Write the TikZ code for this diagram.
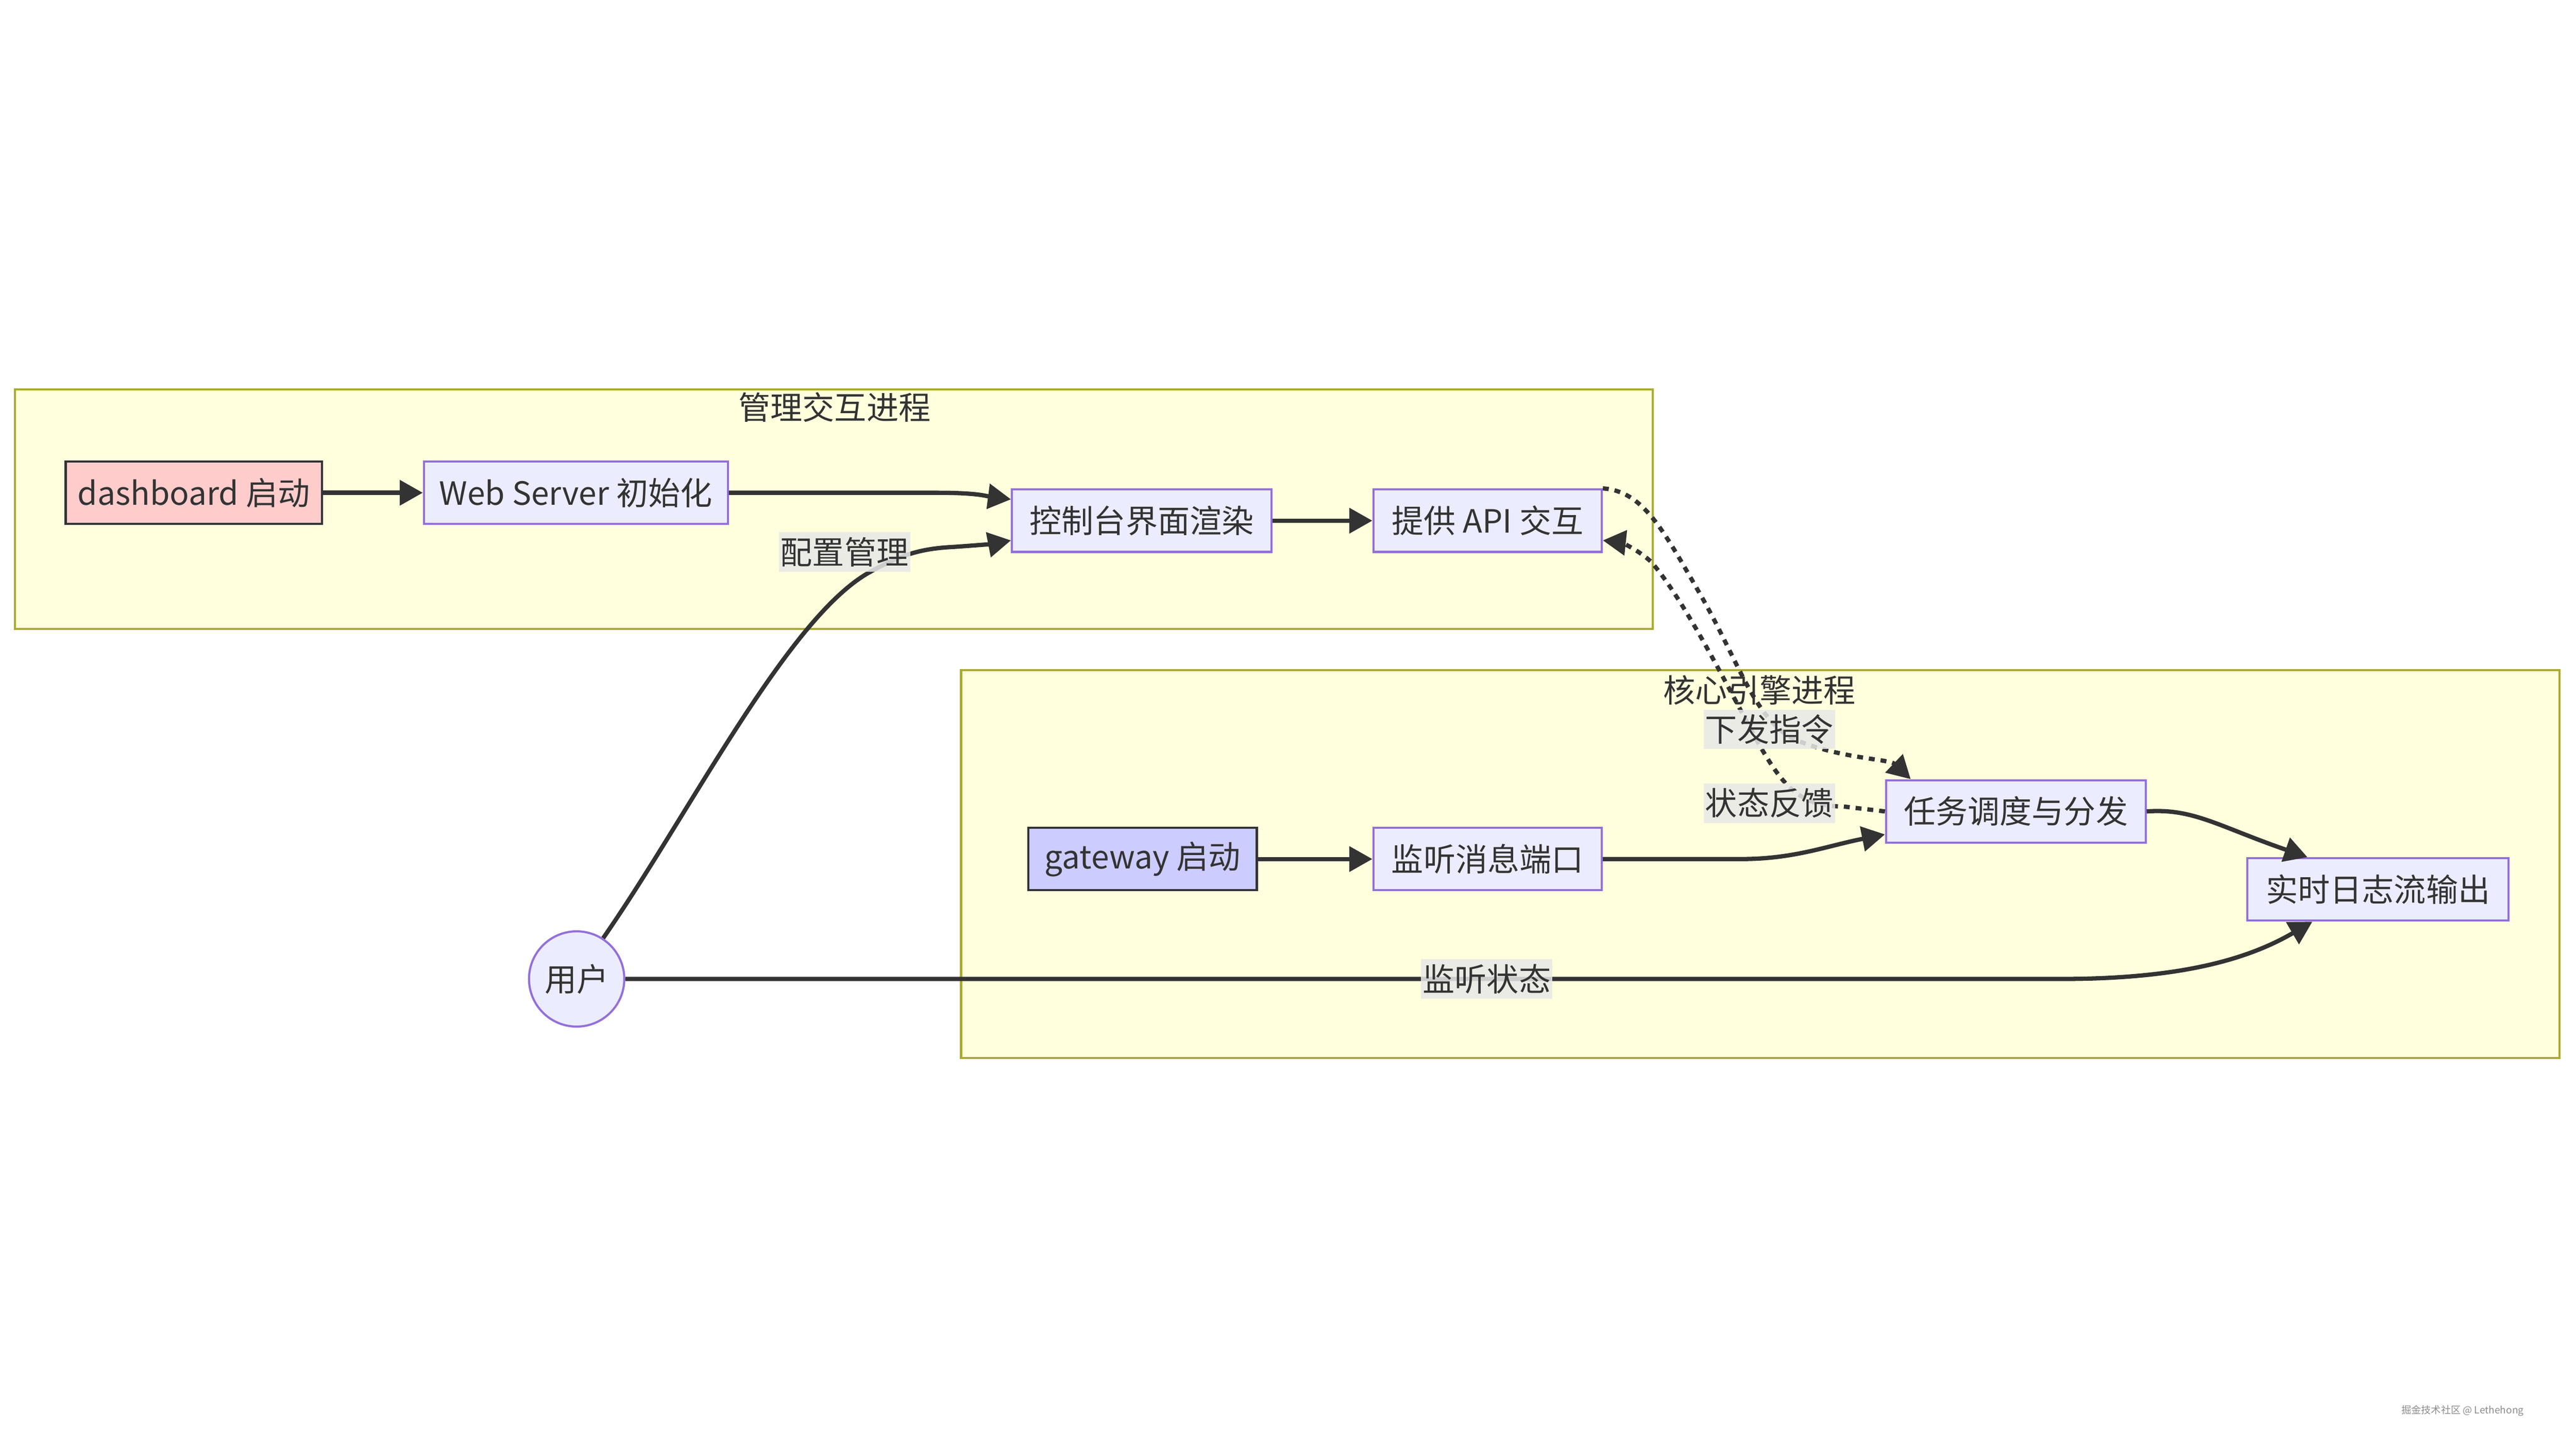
\documentclass[tikz,border=0pt]{standalone}
\usepackage{fontspec}
\setmainfont{Noto Sans CJK SC}
\usetikzlibrary{arrows.meta}
\definecolor{ink}{HTML}{333333}
\definecolor{procfill}{HTML}{ECECFF}
\definecolor{procdraw}{HTML}{9370DB}
\definecolor{subfill}{HTML}{FFFFDE}
\definecolor{subdraw}{HTML}{AAAA33}
\definecolor{pinkfill}{HTML}{FFCCCC}
\definecolor{bluefill}{HTML}{CCCCFF}
\definecolor{labelbg}{HTML}{E8E8E8}
\tikzset{
  txt/.style={font=\fontsize{19.5}{23}\selectfont, text=ink},
  proc/.style={txt, draw=procdraw, fill=procfill, line width=1.3pt, minimum height=38pt, inner sep=0pt},
  startpink/.style={proc, draw=ink, fill=pinkfill},
  startblue/.style={proc, draw=ink, fill=bluefill},
  actor/.style={txt, circle, draw=procdraw, fill=procfill, line width=1.3pt, minimum size=58pt, inner sep=0pt},
  subbox/.style={draw=subdraw, fill=subfill, line width=1.3pt},
  edge/.style={draw=ink, line width=2.6pt, -{Triangle[length=14pt,width=15pt]}},
  dotedge/.style={edge, dash pattern=on 3.6pt off 3.6pt},
  elabel/.style={txt, fill=labelbg, fill opacity=0.85, text opacity=1, inner sep=1pt, minimum height=24pt},
}
\begin{document}
\begin{tikzpicture}[x=1pt,y=-1pt]
\useasboundingbox (0,0) rectangle (1568,882.5);
% subgraphs
\draw[subbox] (9,237) rectangle (1006,383);
\node[txt] (t1) at (508,248) {管理交互进程};
\draw[subbox] (585,408) rectangle (1558,644);
\node[txt] (t2) at (1071,420) {核心引擎进程};
% nodes
\node[startpink, minimum width=156pt] (dash) at (118,300) {dashboard 启动};
\node[proc, minimum width=185pt] (web) at (350.5,300) {Web Server 初始化};
\node[proc, minimum width=158pt] (kz) at (695,317) {控制台界面渲染};
\node[proc, minimum width=139pt] (api) at (905.5,317) {提供 API 交互};
\node[startblue, minimum width=139pt] (gw) at (695.5,523) {gateway 启动};
\node[proc, minimum width=139pt] (jt) at (905.5,523) {监听消息端口};
\node[proc, minimum width=158pt] (rw) at (1227,494) {任务调度与分发};
\node[proc, minimum width=159pt] (log) at (1447.5,541.5) {实时日志流输出};
\node[actor] (user) at (351,596) {用户};
% edges
\draw[edge] (dash) -- (web);
\draw[edge] (web.east) -- (570,300) .. controls (595,300) and (600,302) .. ([yshift=13pt]kz.west);
\draw[edge] (user.57) .. controls (420,495) and (480,375) .. (530,348) .. controls (548,338) and (560,334) .. (580,333) .. controls (595,332) and (605,331) .. ([yshift=-12pt]kz.west);
\draw[edge] (kz) -- (api);
\draw[dotedge] (api.north east) .. controls (1000,299) and (1012,322) .. (1035,362) .. controls (1058,402) and (1068,438) .. (1092,450) .. controls (1120,462) and (1150,462) .. ([xshift=-64pt]rw.north);
\draw[dotedge] (rw.west) -- (1122,491) .. controls (1095,491) and (1085,478) .. (1070,452) .. controls (1050,415) and (1025,365) .. (1005,342) .. controls (995,333) and (985,330) .. ([yshift=-12pt]api.east);
\draw[edge] (gw) -- (jt);
\draw[edge] (jt.east) -- (1060,523) .. controls (1092,523) and (1112,515) .. ([yshift=-14pt]rw.west);
\draw[edge] (rw.east) .. controls (1335,492) and (1350,503) .. ([xshift=-43pt]log.north);
\draw[edge] (user.east) -- (1255,596) .. controls (1330,596) and (1370,583) .. ([xshift=-40pt]log.south);
% edge labels
\node[elabel] (l1) at (514,336) {配置管理};
\node[elabel] (l2) at (1077,444) {下发指令};
\node[elabel] (l3) at (1077,489) {状态反馈};
\node[elabel] (l4) at (905,596) {监听状态};
% watermark
\node[font=\fontsize{6}{7}\selectfont, text=black!45] (wm) at (1499,859) {掘金技术社区 @ Lethehong};
\end{tikzpicture}
\end{document}
